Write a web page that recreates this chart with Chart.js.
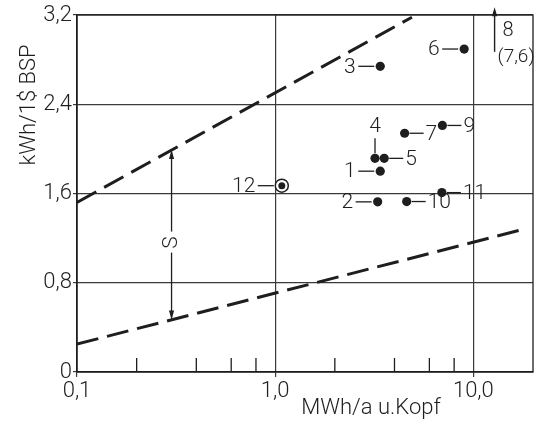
<!DOCTYPE html>
<html>
<head>
<meta charset="utf-8">
<script src="https://cdn.jsdelivr.net/npm/chart.js@4"></script>
<style>
  html, body { margin: 0; padding: 0; background: #ffffff; }
  #wrap { width: 541px; height: 421px; }
</style>
</head>
<body>
<div id="wrap"><canvas id="c" width="541" height="421"></canvas></div>
<script>
// ---------- data ----------
const pointIds   = ['1', '2', '3', '4', '5', '6', '7', '9', '10', '11', '12'];
const pointX     = [3.39, 3.29, 3.39, 3.19, 3.55, 8.99, 4.50, 6.98, 4.61, 6.94, 1.08];
const pointY     = [1.80, 1.525, 2.74, 1.915, 1.915, 2.895, 2.14, 2.21, 1.528, 1.608, 1.67];
const labelSide  = ['left', 'left', 'left', 'top', 'right', 'left', 'right', 'right', 'right', 'right', 'left'];
const refPointId = '12';

// point 8 lies off the scale (7,6) and is shown by an arrow
const offId = '8';
const offX = 12.8;
const offValueText = '(7,6)';
const offArrowFromY = 2.87;
const offArrowToY = 3.27;

// boundary lines of the scatter band
const upperX = [0.1, 4.9];
const upperY = [1.52, 3.18];
const lowerX = [0.1, 18];
const lowerY = [0.25, 1.28];

// spread marker "S"
const spreadText = 'S';
const spreadX = 0.3;
const spreadTopY = 1.99;
const spreadBottomY = 0.47;
const spreadLabelY = 1.16;

// axes
const xMin = 0.1, xMax = 20;
const yMin = 0, yMax = 3.2;
const xTickValues = [0.1, 1, 10];
const xTickLabels = ['0,1', '1,0', '10,0'];
const xMinorTicks = [0.2, 0.4, 0.6, 0.8, 2, 4, 6, 8];
const yTickValues = [0, 0.8, 1.6, 2.4, 3.2];
const yTickLabels = ['0', '0,8', '1,6', '2,4', '3,2'];
const xTitle = 'MWh/a u.Kopf';
const yTitle = 'kWh/1$ BSP';

// ---------- style ----------
const INK = '#1e1e1e';
const GRID = '#3a3a3a';
const FONT = 'Roboto';
const WEIGHT = '300';

const pts = pointX.map((v, i) => ({ x: v, y: pointY[i] }));
const refIdx = pointIds.indexOf(refPointId);

function drawText(ctx, s, px, py, align, baseline, size, rot) {
  ctx.save();
  ctx.font = WEIGHT + ' ' + size + 'px ' + FONT;
  ctx.fillStyle = INK;
  ctx.textAlign = align;
  ctx.textBaseline = baseline;
  ctx.translate(px, py);
  if (rot) ctx.rotate(rot);
  ctx.fillText(s, 0, 0);
  ctx.restore();
}
function seg(ctx, x1, y1, x2, y2, w) {
  ctx.save();
  ctx.strokeStyle = INK;
  ctx.lineWidth = w || 1.3;
  ctx.beginPath();
  ctx.moveTo(x1, y1);
  ctx.lineTo(x2, y2);
  ctx.stroke();
  ctx.restore();
}
function arrowHead(ctx, px, py, dir) {
  // dir: -1 = pointing up, +1 = pointing down
  ctx.save();
  ctx.fillStyle = INK;
  ctx.beginPath();
  ctx.moveTo(px, py);
  ctx.lineTo(px - 2.6, py - dir * 9);
  ctx.lineTo(px + 2.6, py - dir * 9);
  ctx.closePath();
  ctx.fill();
  ctx.restore();
}

const overlay = {
  id: 'overlay',
  afterDatasetsDraw(chart) {
    const { ctx, chartArea: a, scales } = chart;
    const x = scales.x, y = scales.y;

    // frame
    ctx.save();
    ctx.strokeStyle = INK;
    ctx.lineWidth = 1.3;
    ctx.strokeRect(a.left, a.top, a.right - a.left, a.bottom - a.top);
    ctx.restore();

    // minor ticks, inside the frame
    xMinorTicks.forEach(v => {
      const px = x.getPixelForValue(v);
      seg(ctx, px, a.bottom, px, a.bottom - 14, 1.3);
    });

    // spread arrow S
    const sx = x.getPixelForValue(spreadX);
    const sTop = y.getPixelForValue(spreadTopY);
    const sBot = y.getPixelForValue(spreadBottomY);
    const sMid = y.getPixelForValue(spreadLabelY);
    seg(ctx, sx, sTop + 2, sx, sMid - 11, 1.3);
    seg(ctx, sx, sMid + 10, sx, sBot - 2, 1.3);
    arrowHead(ctx, sx, sTop, -1);
    arrowHead(ctx, sx, sBot, 1);
    drawText(ctx, spreadText, sx, sMid, 'center', 'middle', 21, -Math.PI / 2);

    // off-scale point 8
    const ox = x.getPixelForValue(offX);
    const oBot = y.getPixelForValue(offArrowFromY);
    const oTop = y.getPixelForValue(offArrowToY);
    seg(ctx, ox, oBot, ox, oTop + 4, 1.4);
    arrowHead(ctx, ox, oTop, -1);
    drawText(ctx, offId, ox + 8, oBot - 21, 'left', 'middle', 20);
    drawText(ctx, offValueText, ox + 3, oBot + 5, 'left', 'middle', 19);

    // point labels
    pointIds.forEach((id, i) => {
      const px = x.getPixelForValue(pointX[i]);
      const py = y.getPixelForValue(pointY[i]);
      const r = (i === refIdx) ? 6.5 : 4.5;
      const side = labelSide[i];
      if (side === 'left') {
        seg(ctx, px - r - 17.5, py, px - r - 1.5, py, 1.3);
        drawText(ctx, id, px - r - 20, py + 1, 'right', 'middle', 21);
      } else if (side === 'right') {
        seg(ctx, px + r + 0.5, py, px + r + 14.5, py, 1.3);
        drawText(ctx, id, px + r + 16.5, py + 1, 'left', 'middle', 21);
      } else {
        seg(ctx, px, py - r - 0.5, px, py - r - 15.5, 1.3);
        drawText(ctx, id, px, py - r - 27, 'center', 'middle', 21);
      }
    });

    // axis titles
    drawText(ctx, yTitle, a.left - 48, a.top + 90, 'center', 'middle', 22, -Math.PI / 2);
    drawText(ctx, xTitle, a.left + 294, a.bottom + 36, 'center', 'middle', 22);
  }
};

new Chart(document.getElementById('c'), {
  type: 'scatter',
  data: {
    datasets: [
      {
        label: 'upper',
        data: upperX.map((v, i) => ({ x: v, y: upperY[i] })),
        showLine: true,
        borderColor: INK,
        borderWidth: 3,
        borderDash: [22, 9],
        pointRadius: 0,
        fill: false,
        order: 3
      },
      {
        label: 'lower',
        data: lowerX.map((v, i) => ({ x: v, y: lowerY[i] })),
        showLine: true,
        borderColor: INK,
        borderWidth: 3,
        borderDash: [22, 9],
        pointRadius: 0,
        fill: false,
        order: 3
      },
      {
        label: 'ring',
        data: [pts[refIdx]],
        pointStyle: 'circle',
        pointRadius: 6.5,
        pointBackgroundColor: '#ffffff',
        pointBorderColor: INK,
        pointBorderWidth: 1.5,
        order: 2
      },
      {
        label: 'points',
        data: pts,
        pointStyle: 'circle',
        pointRadius: pts.map((p, i) => i === refIdx ? 3.5 : 4.6),
        pointBackgroundColor: INK,
        pointBorderColor: INK,
        pointBorderWidth: 0,
        order: 1
      }
    ]
  },
  options: {
    responsive: false,
    animation: false,
    devicePixelRatio: 1,
    layout: { padding: { top: 15, right: 2, left: 0, bottom: 0 } },
    plugins: { legend: { display: false }, tooltip: { enabled: false } },
    scales: {
      x: {
        type: 'logarithmic',
        min: xMin,
        max: xMax,
        afterBuildTicks: s => { s.ticks = xTickValues.map(v => ({ value: v })); },
        afterFit: s => { s.height = 49; s.paddingLeft = 0; s.paddingRight = 0; },
        ticks: {
          autoSkip: false,
          maxRotation: 0,
          padding: 1,
          color: INK,
          font: { family: FONT, size: 22, weight: WEIGHT },
          callback: (v) => { const k = xTickValues.indexOf(v); return k >= 0 ? xTickLabels[k] : ''; }
        },
        grid: { color: GRID, lineWidth: 1.2, tickLength: 5, drawTicks: true },
        border: { color: INK, width: 1.3 }
      },
      y: {
        type: 'linear',
        min: yMin,
        max: yMax,
        afterBuildTicks: s => { s.ticks = yTickValues.map(v => ({ value: v })); },
        afterFit: s => { s.width = 77; s.paddingTop = 0; s.paddingBottom = 0; },
        ticks: {
          padding: 1,
          color: INK,
          font: { family: FONT, size: 22, weight: WEIGHT },
          callback: (v) => { const k = yTickValues.indexOf(v); return k >= 0 ? yTickLabels[k] : ''; }
        },
        grid: { color: GRID, lineWidth: 1.2, tickLength: 4 },
        border: { color: INK, width: 1.3 }
      }
    }
  },
  plugins: [overlay]
});
</script>
</body>
</html>
